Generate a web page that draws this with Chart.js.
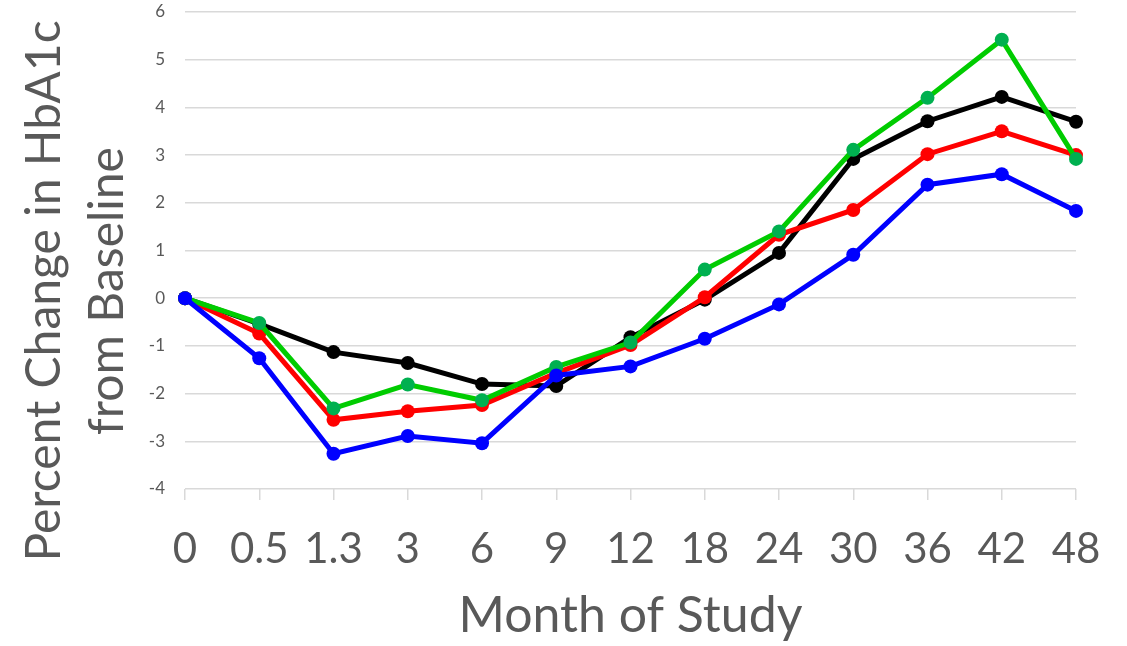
<!DOCTYPE html>
<html>
<head>
<meta charset="utf-8">
<script src="https://cdn.jsdelivr.net/npm/chart.js@4"></script>
<style>
  body { margin: 0; background: #fff; }
  #wrap { width: 1127px; height: 646px; position: relative; }
</style>
</head>
<body>
<div id="wrap"><canvas id="hba1c"></canvas></div>
<script>
// month labels on the category axis
const months = ['0', '0.5', '1.3', '3', '6', '9', '12', '18', '24', '30', '36', '42', '48'];

// percent change in HbA1c from baseline, one array per group
const blackSeries = [0, -0.54, -1.13, -1.36, -1.80, -1.84, -0.82, -0.03, 0.95, 2.92, 3.71, 4.22, 3.70];
const redSeries   = [0, -0.74, -2.55, -2.37, -2.24, -1.57, -0.98, 0.02, 1.33, 1.85, 3.02, 3.50, 3.00];
const greenSeries = [0, -0.52, -2.31, -1.81, -2.14, -1.44, -0.93, 0.60, 1.40, 3.11, 4.20, 5.42, 2.92];
const blueSeries  = [0, -1.26, -3.26, -2.89, -3.04, -1.62, -1.43, -0.85, -0.13, 0.91, 2.38, 2.60, 1.83];

const yTitleLines = ['Percent Change in HbA1c', 'from Baseline'];

const textGrey = '#595959';
const gridGrey = '#d9d9d9';
const fontFamily = 'Lato, "Open Sans", sans-serif';

function series(label, data, lineColor, pointColor) {
    return {
        label: label,
        data: data,
        borderColor: lineColor,
        backgroundColor: pointColor,
        pointBackgroundColor: pointColor,
        pointBorderColor: pointColor,
        borderWidth: 5,
        pointRadius: 7,
        pointBorderWidth: 0,
        tension: 0
    };
}

// draws the two line rotated y title, centred like the original
const yTitlePlugin = {
    id: 'yTitle',
    afterDraw(chart) {
        const ctx = chart.ctx;
        ctx.save();
        ctx.fillStyle = textGrey;
        ctx.font = '48px ' + fontFamily;
        ctx.textAlign = 'center';
        ctx.textBaseline = 'middle';
        ctx.translate(0, 291);
        ctx.rotate(-Math.PI / 2);
        ctx.fillText(yTitleLines[0], 0, 45);
        ctx.fillText(yTitleLines[1], 0, 108);
        ctx.restore();
    }
};

const ctx = document.getElementById('hba1c').getContext('2d');

new Chart(ctx, {
    type: 'line',
    data: {
        labels: months,
        datasets: [
            series('Blue', blueSeries, '#0000ff', '#0000ff'),
            series('Green', greenSeries, '#00cc00', '#00b050'),
            series('Red', redSeries, '#ff0000', '#ff0000'),
            series('Black', blackSeries, '#000000', '#000000')
        ]
    },
    options: {
        responsive: true,
        maintainAspectRatio: false,
        animation: false,
        layout: {
            padding: { top: 12, right: 51, bottom: 0, left: 0 }
        },
        scales: {
            x: {
                offset: false,
                grid: {
                    drawOnChartArea: false,
                    drawTicks: true,
                    tickLength: 11,
                    color: gridGrey,
                    lineWidth: 1.5
                },
                border: { display: false },
                ticks: {
                    autoSkip: false,
                    maxRotation: 0,
                    padding: 24,
                    color: textGrey,
                    font: { family: fontFamily, size: 42 }
                },
                title: {
                    display: true,
                    text: 'Month of Study',
                    color: textGrey,
                    font: { family: fontFamily, size: 50 },
                    padding: 0
                },
                afterFit(scale) {
                    scale.height = 157;
                    scale.paddingLeft = 0;
                    scale.paddingRight = 0;
                }
            },
            y: {
                min: -4,
                max: 6,
                grid: {
                    color: gridGrey,
                    lineWidth: 1.5,
                    drawTicks: false
                },
                border: { display: false },
                ticks: {
                    stepSize: 1,
                    padding: 20,
                    color: textGrey,
                    font: { family: fontFamily, size: 17 }
                },
                afterFit(scale) {
                    scale.width = 185;
                    scale.paddingTop = 0;
                    scale.paddingBottom = 0;
                }
            }
        },
        plugins: {
            legend: { display: false },
            tooltip: { enabled: false }
        }
    },
    plugins: [yTitlePlugin]
});
</script>
</body>
</html>
